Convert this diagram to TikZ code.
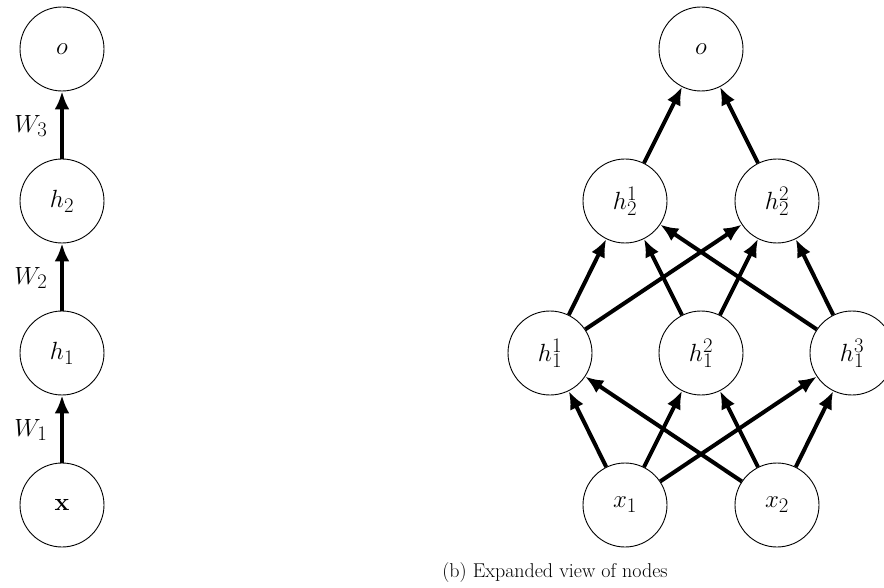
\documentclass[tikz,border=0pt]{standalone}
\usetikzlibrary{arrows.meta}
\begin{document}
\begin{tikzpicture}[x=1pt,y=-1pt,
  neuron/.style={circle,draw,line width=0.9pt,minimum size=84pt,inner sep=0pt,font=\fontsize{28}{32}\selectfont},
  conn/.style={line width=4pt,-{Latex[length=18pt,width=15pt]}},
  wlabel/.style={font=\fontsize{28}{32}\selectfont,inner sep=0pt}]
\useasboundingbox (0,0) rectangle (884,588);
% left
\node[neuron] (o) at (62,49) {$o$};
\node[neuron] (h2) at (62,201) {$h_2$};
\node[neuron] (h1) at (62,353) {$h_1$};
\node[neuron] (x) at (62,505) {$\mathbf{x}$};
\draw[conn] (h2) -- (o);
\draw[conn] (h1) -- (h2);
\draw[conn] (x) -- (h1);
\node[wlabel] (w3) at (31,126) {$W_3$};
\node[wlabel] (w2) at (31,278) {$W_2$};
\node[wlabel] (w1) at (31,430) {$W_1$};
% right
\node[neuron] (ro) at (701,49) {$o$};
\node[neuron] (a1) at (625,201) {$h_2^1$};
\node[neuron] (a2) at (777,201) {$h_2^2$};
\node[neuron] (b1) at (550,353) {$h_1^1$};
\node[neuron] (b2) at (701,353) {$h_1^2$};
\node[neuron] (b3) at (852,353) {$h_1^3$};
\node[neuron] (x1) at (625,505) {$x_1$};
\node[neuron] (x2) at (777,505) {$x_2$};
\foreach \s in {x1,x2}{\foreach \t in {b1,b2,b3}{\draw[conn] (\s) -- (\t);}}
\foreach \s in {b1,b2,b3}{\foreach \t in {a1,a2}{\draw[conn] (\s) -- (\t);}}
\draw[conn] (a1) -- (ro);
\draw[conn] (a2) -- (ro);
\node[font=\fontsize{20}{24}\selectfont,inner sep=0pt] (cap) at (555,573) {(b) Expanded view of nodes};
\end{tikzpicture}
\end{document}
